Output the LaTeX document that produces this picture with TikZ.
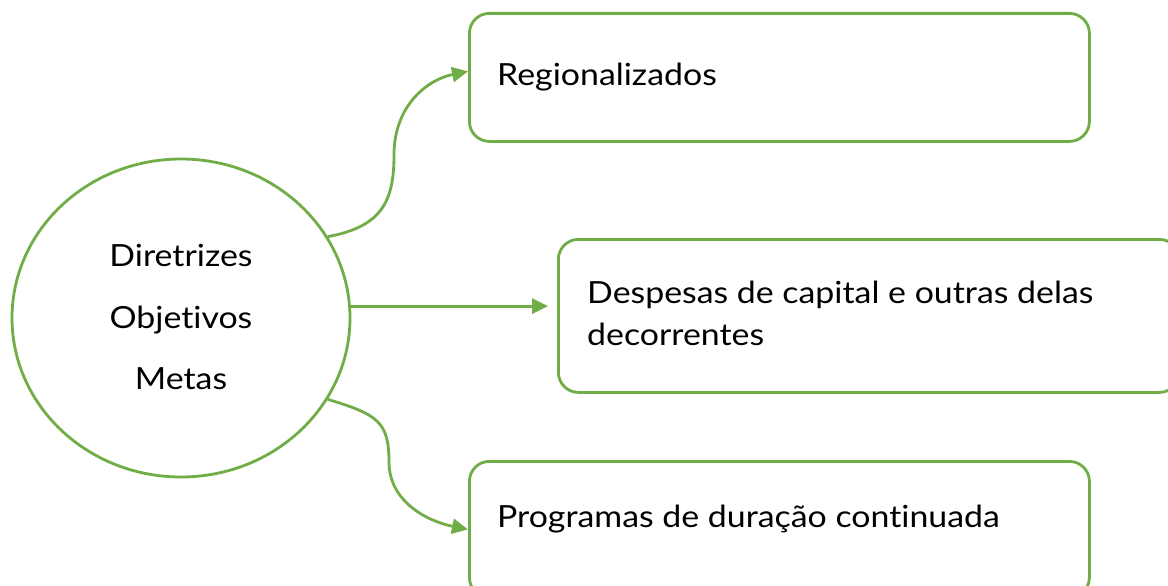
\documentclass[tikz,border=0pt]{standalone}
\usepackage{fontspec}
\setmainfont{Lato}[FakeStretch=1.11,Ligatures={NoCommon}]
\usetikzlibrary{shapes.geometric,arrows.meta}
\definecolor{lgreen}{RGB}{112,173,71}
\tikzset{
  shp/.style={draw=lgreen,line width=2.8pt},
  boxs/.style={shp,rounded corners=20pt,anchor=north west,inner sep=0pt},
  txt/.style={anchor=base west,inner sep=0pt,font=\fontsize{30.5}{42}\selectfont,text=black},
  ctxt/.style={anchor=base,inner sep=0pt,font=\fontsize{30.5}{42}\selectfont,text=black},
  arr/.style={draw=lgreen,line width=2.8pt,-{Triangle[length=16pt,width=15pt]}}
}
\begin{document}
\begin{tikzpicture}[x=1pt,y=-1pt]
\clip (0,0) rectangle (1168,586);
\fill[white] (0,0) rectangle (1168,586);
\node[shp,ellipse,minimum width=338pt,minimum height=318pt,inner sep=0pt] (c) at (181,318) {};
\node[ctxt] (t1) at (181,266) {Diretrizes};
\node[ctxt] (t2) at (181,328) {Objetivos};
\node[ctxt] (t3) at (181,389) {Metas};
\node[boxs,minimum width=620pt,minimum height=128pt] (b1) at (468,12) {};
\node[boxs,minimum width=621pt,minimum height=153pt] (b2) at (557,238) {};
\node[boxs,minimum width=620pt,minimum height=136pt] (b3) at (468,460) {};
\node[txt] (l1) at (497,85) {Regionalizados};
\node[txt,align=left] (l2) at (587,345) {Despesas de capital e outras delas\\decorrentes};
\node[txt] (l3) at (497,527) {Programas de duração continuada};
\draw[arr] (c.29) .. controls +(55,-10) and +(0,45) .. (394,155) .. controls +(0,-50) and +(-40,8) .. ([yshift=6pt]b1.west);
\draw[arr,shorten >=9pt] (c.4) -- (c.4 -| b2.west);
\draw[arr] (c.-29) .. controls +(50,15) and +(0,-40) .. (389,462) .. controls +(0,40) and +(-40,-8) .. (b3.west);
\end{tikzpicture}
\end{document}
